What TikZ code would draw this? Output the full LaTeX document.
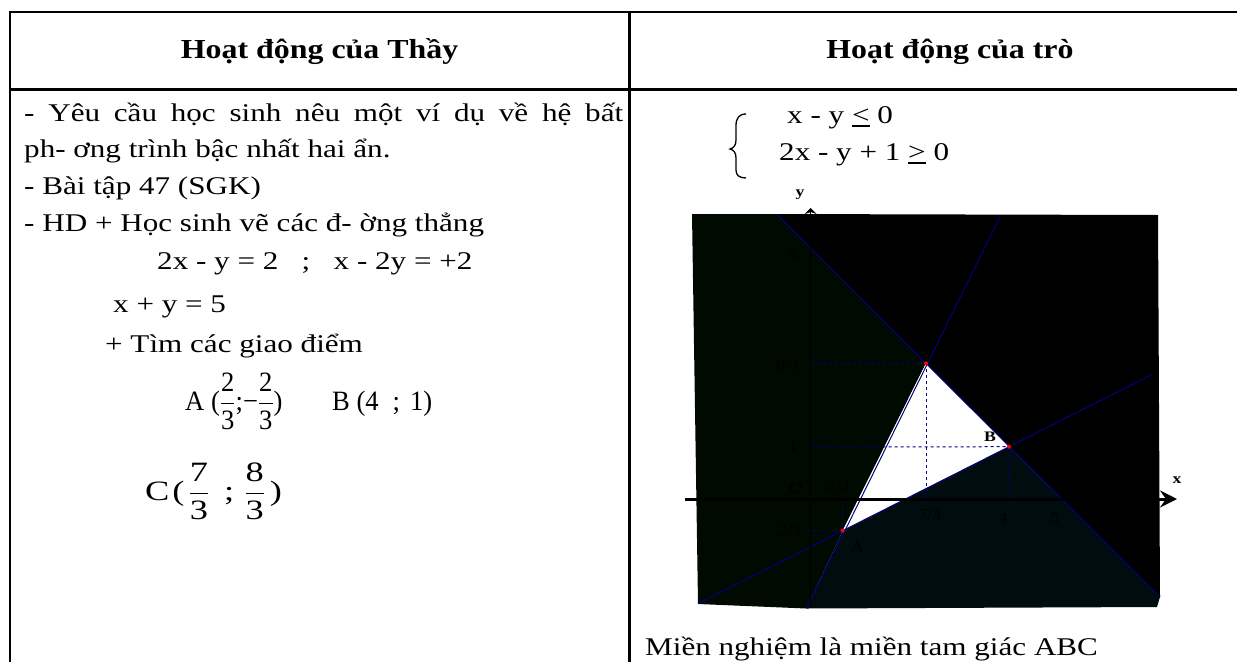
\RequirePackage{fix-cm}
\documentclass[tikz,border=0pt]{standalone}
\usepackage{amsmath}
\usepackage{fontspec}
\setmainfont{Liberation Serif}[FakeStretch=1.22]
\newfontfamily\hdrfont{Liberation Serif}[FakeStretch=1.16]
\newfontfamily\eqafont{Liberation Serif}[FakeStretch=0.95]
\newfontfamily\eqcfont{Liberation Serif}[FakeStretch=1.3]
\usetikzlibrary{arrows.meta}
\definecolor{navyc}{RGB}{0,0,128}
\definecolor{dkgreen}{RGB}{0,10,0}
\definecolor{dkteal}{RGB}{0,12,14}
\newcommand{\ulsym}[1]{\mbox{\setbox0\hbox{#1}\rlap{\rule[-4pt]{\wd0}{2.4pt}}\box0}}
\newcommand{\tfr}[2]{\(\dfrac{\text{#1}}{\text{#2}}\)}
\begin{document}
\begin{tikzpicture}[x=1pt,y=-1pt,
  txt/.style={inner sep=0pt, anchor=base west, font=\fontsize{25.5}{30}\selectfont},
  eqa/.style={inner sep=0pt, anchor=base west, font=\fontsize{28}{32}\eqafont},
  eqc/.style={inner sep=0pt, anchor=base west, font=\fontsize{28}{32}\eqcfont},
  hdr/.style={inner sep=0pt, anchor=base, font=\fontsize{27.5}{32}\hdrfont\bfseries},
  lbl/.style={inner sep=0pt, font=\fontsize{14.5}{17}\selectfont},
  blbl/.style={inner sep=0pt, font=\fontsize{14.5}{17}\selectfont\bfseries},
  gline/.style={draw=navyc, line width=1pt},
  dline/.style={draw=navyc, line width=1pt, dash pattern=on 3pt off 3pt},
  tblrule/.style={line width=2.5pt, draw=black},
]
\useasboundingbox (0,0) rectangle (1237,662);
\fill[white] (0,0) rectangle (1237,662);

% table
\coordinate (t1) at (10,12);   \coordinate (t2) at (1237,12);
\coordinate (t3) at (10,89.7); \coordinate (t4) at (1237,89.7);
\coordinate (v1) at (10,10.75); \coordinate (v2) at (10,662);
\coordinate (v3) at (629.3,10.75); \coordinate (v4) at (629.3,662);
\draw[tblrule] (t1) -- (t2);
\draw[tblrule] (t3) -- (t4);
\draw[tblrule] (v1) -- (v2);
\draw[tblrule] (v3) -- (v4);

\node[hdr] (h1) at (319.6,58) {Hoạt động của Thầy};
\node[hdr] (h2) at (950,58) {Hoạt động của trò};

% left column
\node[txt] (l1) at (24,121) {\makebox[599pt][s]{- Yêu cầu học sinh nêu một ví dụ về hệ bất}};
\node[txt] (l2) at (24,157) {ph- ơng trình bậc nhất hai ẩn.};
\node[txt] (l3) at (24,194) {- Bài tập 47 (SGK)};
\node[txt] (l4) at (24,231) {- HD + Học sinh vẽ các đ- ờng thẳng};
\node[txt] (l5) at (157,269) {2x - y = 2\ \ \ ;\ \ \ x - 2y = +2};
\node[txt] (l6) at (113,312) {x + y = 5};
\node[txt] (l7) at (105,352) {+ Tìm các giao điểm};
\node[eqa] (l8) at (185,410) {A (\tfr{2}{3};−\tfr{2}{3})};
\node[eqa] (l9) at (332,410) {B (4\hspace{14pt};\hspace{10pt}1)};
\node[eqc] (l10) at (145,500) {C\kern3pt(\kern4pt\tfr{7}{3}\hspace{15pt};\hspace{10pt}\tfr{8}{3}\kern5pt)};

% right column: system
\draw[line width=1.3pt] (746,114) .. controls (739,114) and (736,118) .. (736,126) -- (736,140)
  .. controls (736,145) and (734,148) .. (730,149) .. controls (734,150) and (736,153) .. (736,158)
  -- (736,170) .. controls (736,175) and (739,178) .. (746,178);
\node[txt] (s1) at (787,123) {x - y \ulsym{<} 0};
\node[txt] (s2) at (779,160) {2x - y + 1 \ulsym{>} 0};

% graph
\coordinate (A) at (842.7,530.7);
\coordinate (B) at (1009,446.7);
\coordinate (C) at (926,363.3);
\fill[dkgreen] (692,214) -- (776.7,214) -- (C) -- (A) -- (806.5,608.5) -- (698,604) -- cycle;
\fill[black] (776.7,214) -- (1158,215) -- (1160,597) -- (B) -- (C) -- cycle;
\fill[dkteal] (A) -- (B) -- (1160,597) -- (1157,607) -- (806.5,608.5) -- cycle;
\fill[white] (A) -- (B) -- (C) -- cycle;

\coordinate (p1) at (776.7,214.3); \coordinate (p2) at (1160,597);
\coordinate (q1) at (1000,216.7);  \coordinate (q2) at (806.5,608.5);
\coordinate (r1) at (698.3,603.6); \coordinate (r2) at (1153.3,373.8);
\draw[gline] (p1) -- (p2);
\draw[gline] (q1) -- (q2);
\draw[gline] (r1) -- (r2);

% dashed guides
\coordinate (yc) at (810.7,363.3); \coordinate (xc) at (926,499);
\coordinate (yb) at (810.7,447);   \coordinate (xb) at (1009,499);
\coordinate (ya) at (808,530.7);   \coordinate (xa) at (842.7,499);
\draw[dline] (yc) -- (C);
\draw[dline] (C) -- (xc);
\draw[dline] (yb) -- (B);
\draw[dline] (B) -- (xb);
\draw[dline] (ya) -- (A);
\draw[dline] (xa) -- (A);

% axes
\coordinate (x0) at (685,499); \coordinate (x1) at (1177,499);
\coordinate (y0) at (810.7,606); \coordinate (y1) at (810.7,208);
\draw[line width=3pt, -{Stealth[length=17pt,width=17pt,inset=6pt]}] (x0) -- (x1);
\draw[line width=1.5pt, -{Stealth[length=6pt,width=12pt]}] (y0) -- (y1);

\fill[red] (A) circle (2pt);
\fill[red] (B) circle (2pt);
\fill[red] (C) circle (2pt);

% labels
\node[blbl] (ly) at (800,195) {y};
\node[blbl] (lx) at (1177,480) {x};
\node[lbl] (k5) at (793,255) {5};
\node[lbl] (k83) at (787.5,365) {8/3};
\node[lbl] (k1) at (793,447) {1};
\node[lbl] (kO) at (796,488) {O};
\node[lbl] (k23) at (838.5,485) {2/3};
\node[lbl] (k73) at (930,515) {7/3};
\node[lbl] (km23) at (787,531) {-2/3};
\node[lbl] (kA) at (857,547) {A};
\node[blbl] (kB) at (990,437) {B};
\node[lbl] (k4) at (1003,518) {4};
\node[lbl] (kx5) at (1055,518) {5};

\node[txt] (m) at (645,655) {Miền nghiệm là miền tam giác ABC};
\end{tikzpicture}
\end{document}
